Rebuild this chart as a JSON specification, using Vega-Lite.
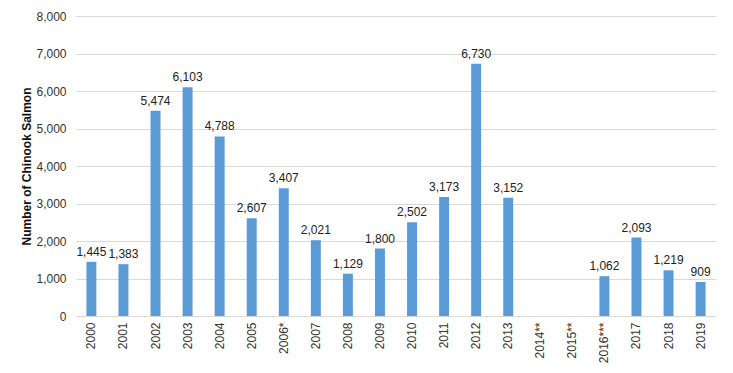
{
  "$schema": "https://vega.github.io/schema/vega-lite/v6.json",
  "autosize": "none",
  "width": 640,
  "height": 300,
  "padding": {"left": 76, "top": 16, "right": 17, "bottom": 57},
  "background": "white",
  "config": {
    "view": {"stroke": null},
    "font": "Liberation Sans",
    "axis": {"labelFont": "Liberation Sans", "titleFont": "Liberation Sans", "labelFontSize": 12, "labelColor": "#333333", "titleColor": "#111111"}
  },
  "data": {
    "values": [
      {"year": "2000", "count": 1445},
      {"year": "2001", "count": 1383},
      {"year": "2002", "count": 5474},
      {"year": "2003", "count": 6103},
      {"year": "2004", "count": 4788},
      {"year": "2005", "count": 2607},
      {"year": "2006*", "count": 3407},
      {"year": "2007", "count": 2021},
      {"year": "2008", "count": 1129},
      {"year": "2009", "count": 1800},
      {"year": "2010", "count": 2502},
      {"year": "2011", "count": 3173},
      {"year": "2012", "count": 6730},
      {"year": "2013", "count": 3152},
      {"year": "2014**", "count": null},
      {"year": "2015**", "count": null},
      {"year": "2016***", "count": 1062},
      {"year": "2017", "count": 2093},
      {"year": "2018", "count": 1219},
      {"year": "2019", "count": 909}
    ]
  },
  "encoding": {
    "x": {
      "field": "year", "type": "nominal", "sort": null,
      "scale": {"domain": ["2000","2001","2002","2003","2004","2005","2006*","2007","2008","2009","2010","2011","2012","2013","2014**","2015**","2016***","2017","2018","2019"], "paddingInner": 0.69, "paddingOuter": 0.325},
      "axis": {"title": null, "labelAngle": -90, "ticks": false, "labelPadding": 6, "domainColor": "#d9d9d9", "labelBaseline": "middle", "labelAlign": "right"}
    },
    "y": {
      "field": "count", "type": "quantitative",
      "scale": {"domain": [0, 8000]},
      "axis": {"title": "Number of Chinook Salmon", "titleFontSize": 12, "titleFontWeight": "bold", "titlePadding": 2, "values": [0,1000,2000,3000,4000,5000,6000,7000,8000], "format": ",.0f", "domain": false, "ticks": false, "labelPadding": 10, "gridColor": "#d9d9d9"}
    }
  },
  "layer": [
    {"mark": {"type": "bar", "color": "#5b9bd5"}},
    {"mark": {"type": "text", "dy": -10, "fontSize": 12, "color": "#222222", "font": "Liberation Sans"},
     "encoding": {"text": {"field": "count", "type": "quantitative", "format": ",.0f"}}}
  ]
}
